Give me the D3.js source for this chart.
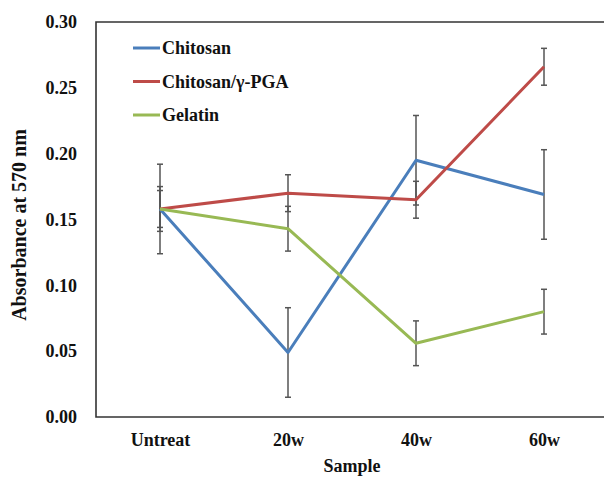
<!DOCTYPE html>
<html>
<head>
<meta charset="utf-8">
<script src="https://cdn.jsdelivr.net/npm/d3@7"></script>
<style>
  body { margin: 0; background: #fff; }
  text { font-family: "Liberation Serif", "Times New Roman", serif; font-weight: bold; fill: #111; }
</style>
</head>
<body>
<div id="chart"></div>
<script>
// categories and ticks
const samples = ["Untreat", "20w", "40w", "60w"];
const yTicks = [0, 0.05, 0.10, 0.15, 0.20, 0.25, 0.30];

// series means and error
const chitosan    = [0.158, 0.049, 0.195, 0.169];
const chitosanErr = [0.034, 0.034, 0.034, 0.034];
const pga         = [0.158, 0.170, 0.165, 0.266];
const pgaErr      = [0.014, 0.014, 0.014, 0.014];
const gelatin     = [0.158, 0.143, 0.056, 0.080];
const gelatinErr  = [0.017, 0.017, 0.017, 0.017];

const seriesNames  = ["Chitosan", "Chitosan/\u03b3-PGA", "Gelatin"];
const seriesColors = ["#4a7ebb", "#be4b48", "#98b954"];

var margin = {top: 22, right: -4, bottom: 60, left: 96},
    width = 604 - margin.left - margin.right,
    height = 477 - margin.top - margin.bottom;

var series = [
  {name: seriesNames[0], color: seriesColors[0], vals: chitosan, err: chitosanErr},
  {name: seriesNames[1], color: seriesColors[1], vals: pga, err: pgaErr},
  {name: seriesNames[2], color: seriesColors[2], vals: gelatin, err: gelatinErr}
];

var svg = d3.select("#chart").append("svg")
    .attr("width", 604)
    .attr("height", 477)
  .append("g")
    .attr("transform", "translate(" + margin.left + "," + margin.top + ")");

var xScale = d3.scalePoint()
    .domain(samples)
    .range([0, width])
    .padding(0.5);

var yScale = d3.scaleLinear()
    .domain([0, 0.30])
    .range([height, 0]);

// frame (top, left, bottom)
svg.append("path")
    .attr("d", "M" + (width + 10) + ",0H0V" + height + "H" + (width + 10))
    .attr("fill", "none")
    .attr("stroke", "#333")
    .attr("stroke-width", 1.6);

// y axis labels
svg.append("g")
    .attr("class", "y axis")
    .attr("transform", "translate(-19,0)")
    .call(d3.axisLeft(yScale).tickValues(yTicks).tickFormat(d3.format(".2f")).tickSize(0).tickPadding(0))
    .call(g => g.select(".domain").remove())
    .call(g => g.selectAll("text").style("font-size", "18px").attr("fill", "#111")
        .style("font-family", "Liberation Serif").style("font-weight", "bold"));

// x axis labels
svg.append("g")
    .attr("class", "x axis")
    .attr("transform", "translate(0," + height + ")")
    .call(d3.axisBottom(xScale).tickSize(0).tickPadding(16))
    .call(g => g.select(".domain").remove())
    .call(g => g.selectAll("text").style("font-size", "18px").attr("fill", "#111")
        .style("font-family", "Liberation Serif").style("font-weight", "bold"));

// axis titles
svg.append("text")
    .attr("x", width / 2)
    .attr("y", height + 55)
    .attr("text-anchor", "middle")
    .style("font-size", "18px")
    .text("Sample");

svg.append("text")
    .attr("transform", "translate(" + (-70) + "," + (203) + ") rotate(-90)")
    .attr("text-anchor", "middle")
    .style("font-size", "20px")
    .text("Absorbance at 570 nm");

var line = d3.line()
    .x(function(d, i) { return xScale(samples[i]); })
    .y(function(d) { return yScale(d); })
    .curve(d3.curveLinear);

// error bars
series.forEach(function(s) {
  var eb = svg.append("g").attr("stroke", "#555").attr("stroke-width", 1.5);
  s.vals.forEach(function(v, i) {
    var x = xScale(samples[i]);
    eb.append("line")
        .attr("x1", x).attr("x2", x)
        .attr("y1", yScale(v + s.err[i])).attr("y2", yScale(v - s.err[i]));
    [v + s.err[i], v - s.err[i]].forEach(function(e) {
      eb.append("line")
          .attr("x1", x - 3).attr("x2", x + 3)
          .attr("y1", yScale(e)).attr("y2", yScale(e));
    });
  });
});

// series lines
series.forEach(function(s) {
  svg.append("path")
      .datum(s.vals)
      .attr("fill", "none")
      .attr("stroke", s.color)
      .attr("stroke-width", 3)
      .attr("stroke-linejoin", "round")
      .attr("d", line);
});

// legend
var legend = svg.append("g").attr("transform", "translate(37,26)");
series.forEach(function(s, i) {
  var g = legend.append("g").attr("transform", "translate(0," + (i * 33.5) + ")");
  g.append("line")
      .attr("x1", 0).attr("x2", 27)
      .attr("stroke", s.color).attr("stroke-width", 3);
  g.append("text")
      .attr("x", 29).attr("y", 6)
      .style("font-size", "18px")
      .text(s.name);
});
</script>
</body>
</html>
